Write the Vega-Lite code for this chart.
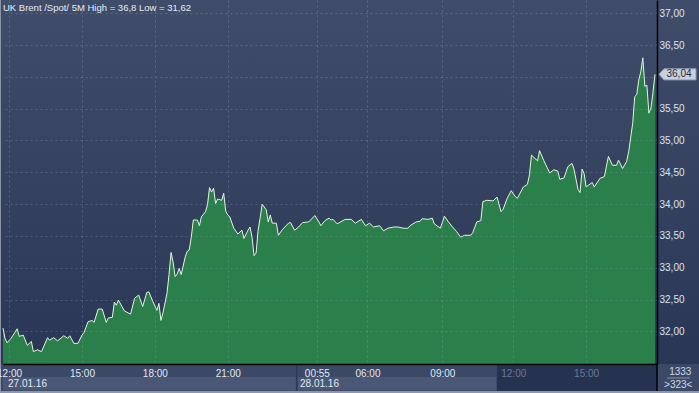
{
  "$schema": "https://vega.github.io/schema/vega-lite/v6.json",
  "width": 654,
  "height": 364,
  "autosize": {"type": "none"},
  "padding": {"left": 3, "top": 0, "right": 42, "bottom": 29},
  "background": "#3c4966",
  "config": {"view": {"stroke": null}, "font": "Liberation Sans", "axis": {"labelOverlap": false, "labelSeparation": 0, "labelBound": false}},
  "layer": [
    {
      "data": {"values": [{}]},
      "mark": {"type": "rect", "color": {"gradient": "linear", "x1": 0, "y1": 0, "x2": 0, "y2": 1, "stops": [{"offset": 0, "color": "#404d6a"}, {"offset": 1, "color": "#293655"}]}},
      "encoding": {
        "x": {
          "datum": -2, "type": "quantitative", "scale": {"domain": [0, 323], "nice": false, "zero": false},
          "axis": {
            "orient": "bottom",
            "values": [3, 39, 75, 111, 155, 180, 217, 252, 288],
            "labelExpr": "datum.value == 3 ? '12:00' : datum.value == 39 ? '15:00' : datum.value == 75 ? '18:00' : datum.value == 111 ? '21:00' : datum.value == 155 ? '00:55' : datum.value == 180 ? '06:00' : datum.value == 217 ? '09:00' : datum.value == 252 ? '12:00' : '15:00'",
            "grid": true, "gridDash": [2, 3], "gridColor": "#9aaacc", "gridOpacity": 0.3,
            "ticks": false, "domainColor": "#000000", "domainWidth": 1.5,
            "labelColor": {"condition": {"test": "datum.value > 240", "value": "#6c7993"}, "value": "#e2e9f5"},
            "labelFontSize": 10, "labelPadding": 4, "labelFlush": false, "labelOverlap": false,
            "title": null, "zindex": 1
          }
        },
        "x2": {"datum": 347},
        "y": {
          "datum": 31.486, "type": "quantitative", "scale": {"domain": [31.486, 37.209], "nice": false, "zero": false},
          "axis": {
            "orient": "right",
            "values": [32, 32.5, 33, 33.5, 34, 34.5, 35, 35.5, 36, 36.5, 37],
            "tickCount": 11,
            "labelExpr": "datum.value == 36 ? '' : replace(format(datum.value, '.2f'), '.', ',')",
            "grid": true, "gridDash": [2, 3], "gridColor": "#9aaacc", "gridOpacity": 0.3,
            "ticks": false, "domainColor": "#000000", "domainWidth": 1.5,
            "labelColor": "#dbe5f5", "labelFontSize": 10, "labelPadding": 2, "labelFlush": false, "labelOverlap": false,
            "title": null, "zindex": 1
          }
        },
        "y2": {"datum": 37.209}
      }
    },
    {
      "data": {"values": [{}]},
      "mark": {"type": "rect", "color": "#263350"},
      "encoding": {
        "x": {"datum": 244, "type": "quantitative"},
        "x2": {"datum": 323},
        "y": {"datum": 31.47, "type": "quantitative"},
        "y2": {"datum": 31.061}
      }
    },
    {
      "data": {"values": [{}]},
      "mark": {"type": "rect", "color": "#4b5875"},
      "encoding": {
        "x": {"datum": 0, "type": "quantitative"},
        "x2": {"datum": 144.6},
        "y": {"datum": 31.28, "type": "quantitative"},
        "y2": {"datum": 31.075}
      }
    },
    {
      "data": {"values": [{}]},
      "mark": {"type": "rect", "color": "#4b5875"},
      "encoding": {
        "x": {"datum": 145.6, "type": "quantitative"},
        "x2": {"datum": 243.6},
        "y": {"datum": 31.28, "type": "quantitative"},
        "y2": {"datum": 31.075}
      }
    },
    {
      "data": {"values": [{}]},
      "mark": {"type": "rect", "color": "#8d97aa"},
      "encoding": {
        "x": {"datum": -2, "type": "quantitative"},
        "x2": {"datum": 347},
        "y": {"datum": 31.061, "type": "quantitative"},
        "y2": {"datum": 30.98}
      }
    },
    {
      "data": {"values": [{}]},
      "mark": {"type": "rect", "color": "#8d97aa"},
      "encoding": {
        "x": {"datum": -2, "type": "quantitative"},
        "x2": {"datum": -1},
        "y": {"datum": 30.98, "type": "quantitative"},
        "y2": {"datum": 37.209}
      }
    },
    {
      "data": {"values": [{}]},
      "mark": {"type": "rule", "color": "#000000", "strokeWidth": 1.5},
      "encoding": {
        "x": {"datum": 323, "type": "quantitative"},
        "y": {"datum": 31.486, "type": "quantitative"},
        "y2": {"datum": 31.061}
      }
    },
    {
      "data": {"values": [{}]},
      "mark": {"type": "rule", "color": "#2a3550", "strokeWidth": 1},
      "encoding": {
        "x": {"datum": 145.1, "type": "quantitative"},
        "y": {"datum": 31.486, "type": "quantitative"},
        "y2": {"datum": 31.061}
      }
    },
    {
      "data": {"values": [
        {"bar": 0, "price": 32.05}, {"bar": 1, "price": 31.89}, {"bar": 2, "price": 31.82}, {"bar": 4, "price": 31.89},
        {"bar": 7, "price": 32.04}, {"bar": 8, "price": 31.92}, {"bar": 10, "price": 31.94}, {"bar": 12, "price": 31.78},
        {"bar": 14, "price": 31.84}, {"bar": 15, "price": 31.68}, {"bar": 17, "price": 31.71}, {"bar": 19, "price": 31.68},
        {"bar": 22, "price": 31.90}, {"bar": 23, "price": 31.86}, {"bar": 25, "price": 31.90}, {"bar": 27, "price": 31.85},
        {"bar": 30, "price": 31.93}, {"bar": 32, "price": 31.89}, {"bar": 33, "price": 31.93}, {"bar": 35, "price": 31.81},
        {"bar": 37, "price": 31.81}, {"bar": 39, "price": 31.94}, {"bar": 40, "price": 31.98}, {"bar": 42, "price": 32.15},
        {"bar": 44, "price": 32.17}, {"bar": 45, "price": 32.14}, {"bar": 47, "price": 32.35}, {"bar": 49, "price": 32.35},
        {"bar": 51, "price": 32.14}, {"bar": 52, "price": 32.21}, {"bar": 54, "price": 32.22}, {"bar": 55, "price": 32.46},
        {"bar": 56, "price": 32.41}, {"bar": 57, "price": 32.49}, {"bar": 60, "price": 32.32}, {"bar": 63, "price": 32.27},
        {"bar": 65, "price": 32.52}, {"bar": 67, "price": 32.57}, {"bar": 69, "price": 32.39}, {"bar": 71, "price": 32.61},
        {"bar": 72, "price": 32.62}, {"bar": 74, "price": 32.47}, {"bar": 76, "price": 32.33}, {"bar": 77, "price": 32.44},
        {"bar": 78, "price": 32.17}, {"bar": 79, "price": 32.29}, {"bar": 81, "price": 32.60}, {"bar": 82, "price": 32.89},
        {"bar": 83, "price": 33.24}, {"bar": 84, "price": 33.09}, {"bar": 85, "price": 32.86}, {"bar": 86, "price": 32.90},
        {"bar": 87, "price": 32.99}, {"bar": 88, "price": 32.89}, {"bar": 90, "price": 33.17}, {"bar": 91, "price": 33.26},
        {"bar": 92, "price": 33.28}, {"bar": 93, "price": 33.48}, {"bar": 94, "price": 33.75}, {"bar": 96, "price": 33.75},
        {"bar": 97, "price": 33.66}, {"bar": 98, "price": 33.80}, {"bar": 100, "price": 33.88}, {"bar": 101, "price": 33.99},
        {"bar": 102, "price": 34.26}, {"bar": 103, "price": 34.19}, {"bar": 104, "price": 34.25}, {"bar": 105, "price": 34.01},
        {"bar": 106, "price": 34.08}, {"bar": 108, "price": 34.06}, {"bar": 109, "price": 34.17}, {"bar": 110, "price": 33.89},
        {"bar": 111, "price": 33.83}, {"bar": 112, "price": 33.80}, {"bar": 114, "price": 33.62}, {"bar": 116, "price": 33.53},
        {"bar": 118, "price": 33.59}, {"bar": 119, "price": 33.46}, {"bar": 121, "price": 33.59}, {"bar": 122, "price": 33.64},
        {"bar": 123, "price": 33.48}, {"bar": 124, "price": 33.19}, {"bar": 125, "price": 33.23}, {"bar": 126, "price": 33.59},
        {"bar": 127, "price": 33.78}, {"bar": 128, "price": 34.00}, {"bar": 130, "price": 33.91}, {"bar": 131, "price": 33.72},
        {"bar": 132, "price": 33.83}, {"bar": 133, "price": 33.70}, {"bar": 135, "price": 33.70}, {"bar": 136, "price": 33.51},
        {"bar": 138, "price": 33.60}, {"bar": 141, "price": 33.70}, {"bar": 142, "price": 33.71}, {"bar": 144, "price": 33.59},
        {"bar": 146, "price": 33.64}, {"bar": 148, "price": 33.71}, {"bar": 151, "price": 33.72}, {"bar": 154, "price": 33.82},
        {"bar": 156, "price": 33.72}, {"bar": 157, "price": 33.66}, {"bar": 159, "price": 33.74}, {"bar": 161, "price": 33.78},
        {"bar": 162, "price": 33.75}, {"bar": 163, "price": 33.76}, {"bar": 165, "price": 33.69}, {"bar": 169, "price": 33.76},
        {"bar": 172, "price": 33.76}, {"bar": 174, "price": 33.70}, {"bar": 177, "price": 33.76}, {"bar": 179, "price": 33.66},
        {"bar": 181, "price": 33.70}, {"bar": 183, "price": 33.64}, {"bar": 186, "price": 33.66}, {"bar": 188, "price": 33.58},
        {"bar": 190, "price": 33.62}, {"bar": 193, "price": 33.64}, {"bar": 195, "price": 33.64}, {"bar": 198, "price": 33.62},
        {"bar": 200, "price": 33.62}, {"bar": 201, "price": 33.66}, {"bar": 204, "price": 33.72}, {"bar": 206, "price": 33.73},
        {"bar": 207, "price": 33.77}, {"bar": 210, "price": 33.76}, {"bar": 212, "price": 33.78}, {"bar": 213, "price": 33.69},
        {"bar": 216, "price": 33.62}, {"bar": 218, "price": 33.81}, {"bar": 220, "price": 33.72}, {"bar": 222, "price": 33.64},
        {"bar": 224, "price": 33.57}, {"bar": 226, "price": 33.48}, {"bar": 228, "price": 33.51}, {"bar": 231, "price": 33.51},
        {"bar": 232, "price": 33.55}, {"bar": 234, "price": 33.72}, {"bar": 236, "price": 33.74}, {"bar": 237, "price": 34.04},
        {"bar": 239, "price": 34.06}, {"bar": 242, "price": 34.05}, {"bar": 244, "price": 34.11}, {"bar": 246, "price": 33.88},
        {"bar": 247, "price": 33.92}, {"bar": 249, "price": 34.09}, {"bar": 251, "price": 34.21}, {"bar": 253, "price": 34.12},
        {"bar": 254, "price": 34.09}, {"bar": 257, "price": 34.27}, {"bar": 259, "price": 34.31}, {"bar": 260, "price": 34.46},
        {"bar": 261, "price": 34.77}, {"bar": 264, "price": 34.68}, {"bar": 265, "price": 34.84}, {"bar": 267, "price": 34.69},
        {"bar": 270, "price": 34.49}, {"bar": 272, "price": 34.54}, {"bar": 274, "price": 34.52}, {"bar": 275, "price": 34.39},
        {"bar": 277, "price": 34.41}, {"bar": 279, "price": 34.59}, {"bar": 281, "price": 34.64}, {"bar": 282, "price": 34.55},
        {"bar": 284, "price": 34.23}, {"bar": 285, "price": 34.18}, {"bar": 286, "price": 34.55}, {"bar": 287, "price": 34.48},
        {"bar": 288, "price": 34.27}, {"bar": 291, "price": 34.34}, {"bar": 292, "price": 34.27}, {"bar": 295, "price": 34.41},
        {"bar": 297, "price": 34.43}, {"bar": 299, "price": 34.75}, {"bar": 301, "price": 34.61}, {"bar": 303, "price": 34.61},
        {"bar": 304, "price": 34.69}, {"bar": 306, "price": 34.56}, {"bar": 308, "price": 34.67}, {"bar": 309, "price": 34.82},
        {"bar": 311, "price": 35.27}, {"bar": 312, "price": 35.69}, {"bar": 313, "price": 35.72}, {"bar": 314, "price": 35.95},
        {"bar": 315, "price": 36.08}, {"bar": 316, "price": 36.30}, {"bar": 317, "price": 35.85}, {"bar": 318, "price": 35.87},
        {"bar": 319, "price": 35.43}, {"bar": 320, "price": 35.51}, {"bar": 321, "price": 35.75}, {"bar": 322, "price": 36.04}
      ]},
      "mark": {"type": "area", "color": "#2a7f4a", "opacity": 1, "line": {"color": "#e3f7dc", "strokeWidth": 1}},
      "encoding": {
        "x": {"field": "bar", "type": "quantitative"},
        "y": {"field": "price", "type": "quantitative"},
        "y2": {"datum": 31.486}
      }
    },
    {
      "data": {"values": [{}]},
      "mark": {"type": "point", "shape": "M0.1,0L0.35,-0.28L1.95,-0.28L1.95,0.28L0.35,0.28Z", "size": 1600, "filled": true, "fill": "#c9d1dc", "stroke": "#8e99ab", "strokeWidth": 1, "opacity": 1},
      "encoding": {
        "x": {"datum": 323, "type": "quantitative"},
        "y": {"datum": 36.04, "type": "quantitative"}
      }
    },
    {
      "data": {"values": [{}]},
      "mark": {"type": "text", "text": "36,04", "dx": 22, "align": "center", "baseline": "middle", "color": "#1f2a44", "fontSize": 10},
      "encoding": {
        "x": {"datum": 323, "type": "quantitative"},
        "y": {"datum": 36.04, "type": "quantitative"}
      }
    },
    {
      "data": {"values": [{}]},
      "mark": {"type": "text", "text": "UK Brent /Spot/  5M High = 36,8 Low = 31,62", "align": "left", "baseline": "top", "dy": 3, "color": "#e6ecf6", "fontSize": 9.5},
      "encoding": {
        "x": {"datum": 0, "type": "quantitative"},
        "y": {"datum": 37.209, "type": "quantitative"}
      }
    },
    {
      "data": {"values": [{"bar": 2.5, "label": "27.01.16"}, {"bar": 146.7, "label": "28.01.16"}]},
      "mark": {"type": "text", "align": "left", "baseline": "middle", "color": "#e2e9f5", "fontSize": 10},
      "encoding": {
        "x": {"field": "bar", "type": "quantitative"},
        "y": {"datum": 31.179, "type": "quantitative"},
        "text": {"field": "label"}
      }
    },
    {
      "data": {"values": [{}]},
      "mark": {"type": "text", "text": "1333", "align": "center", "baseline": "middle", "color": "#d0d8e6", "fontSize": 10},
      "encoding": {
        "x": {"datum": 334.5, "type": "quantitative"},
        "y": {"datum": 31.36, "type": "quantitative"}
      }
    },
    {
      "data": {"values": [{}]},
      "mark": {"type": "text", "text": ">323<", "align": "center", "baseline": "middle", "color": "#d0d8e6", "fontSize": 10},
      "encoding": {
        "x": {"datum": 333.5, "type": "quantitative"},
        "y": {"datum": 31.156, "type": "quantitative"}
      }
    },
    {
      "data": {"values": [{}]},
      "mark": {"type": "rule", "color": "#8893a8", "strokeWidth": 1},
      "encoding": {
        "x": {"datum": 328, "type": "quantitative"},
        "x2": {"datum": 339.3},
        "y": {"datum": 31.266, "type": "quantitative"}
      }
    }
  ]
}
